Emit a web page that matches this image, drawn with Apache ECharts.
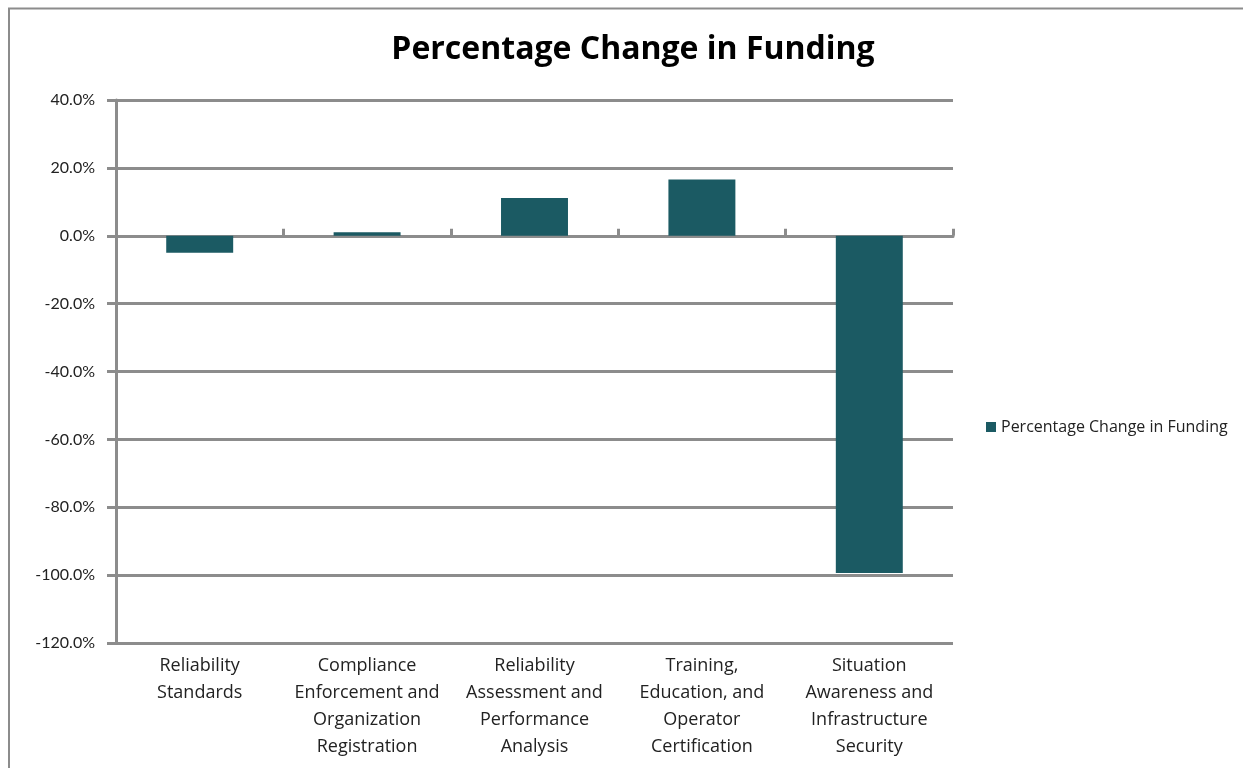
<!DOCTYPE html>
<html>
<head>
<meta charset="utf-8">
<script src="https://cdn.jsdelivr.net/npm/echarts@6/dist/echarts.min.js"></script>
<style>html,body{margin:0;padding:0;background:#fff}#c{width:1243px;height:768px}</style>
</head>
<body>
<div id="c"></div>
<script>
var categories = [
  "Reliability\nStandards",
  "Compliance\nEnforcement and\nOrganization\nRegistration",
  "Reliability\nAssessment and\nPerformance\nAnalysis",
  "Training,\nEducation, and\nOperator\nCertification",
  "Situation\nAwareness and\nInfrastructure\nSecurity"
];
var seriesName = "Percentage Change in Funding";
var values = [-5.0, 1.0, 11.1, 16.6, -99.4];
var yMin = -120, yMax = 40, yStep = 20;

var chart = echarts.init(document.getElementById('c'), null, {renderer: 'canvas'});
var gridColor = '#8c8c8c';
var font = 'Lato, "Open Sans", sans-serif';
var font2 = '"Open Sans", Lato, sans-serif';
chart.setOption({
  animation: false,
  backgroundColor: '#fff',
  graphic: [{
    type: 'rect', silent: true,
    shape: {x: 9, y: 8.5, width: 1300, height: 800},
    style: {fill: 'none', stroke: '#8c8c8c', lineWidth: 2}
  }],
  title: {
    text: 'Percentage Change in Funding',
    left: 628, textAlign: 'center', top: 29,
    textStyle: {fontFamily: font2, fontWeight: 'bold', fontSize: 32, color: '#000'}
  },
  legend: {
    data: [seriesName],
    left: 981, top: 414, orient: 'vertical',
    icon: 'rect', itemWidth: 10, itemHeight: 10, itemGap: 5,
    textStyle: {fontFamily: font2, fontSize: 16, color: '#222'}
  },
  grid: {left: 116, right: 290, top: 100, bottom: 125, containLabel: false},
  xAxis: [{
    type: 'category', data: categories, position: 'bottom',
    axisLine: {show: false, onZero: false},
    axisTick: {show: false},
    axisLabel: {interval: 0, margin: 9, lineHeight: 27, fontFamily: font2, fontSize: 18, color: '#222'}
  }, {
    type: 'category', data: categories,
    axisLine: {show: true, onZero: true, lineStyle: {color: gridColor, width: 3}},
    axisTick: {show: true, length: 7, lineStyle: {color: gridColor, width: 3}},
    axisLabel: {show: false}
  }],
  yAxis: {
    type: 'value', min: yMin, max: yMax, interval: yStep,
    axisLine: {show: true, lineStyle: {color: gridColor, width: 3}},
    axisTick: {show: true, inside: false, length: 9, lineStyle: {color: gridColor, width: 3}},
    splitLine: {show: true, lineStyle: {color: gridColor, width: 3}},
    axisLabel: {
      margin: 21, fontFamily: font, fontSize: 16, color: '#222',
      formatter: function (v) { return v.toFixed(1) + '%'; }
    }
  },
  series: [{
    name: seriesName, type: 'bar', data: values,
    xAxisIndex: 0, barWidth: '40%',
    itemStyle: {color: '#1b5a63'}
  }]
});
</script>
</body>
</html>
